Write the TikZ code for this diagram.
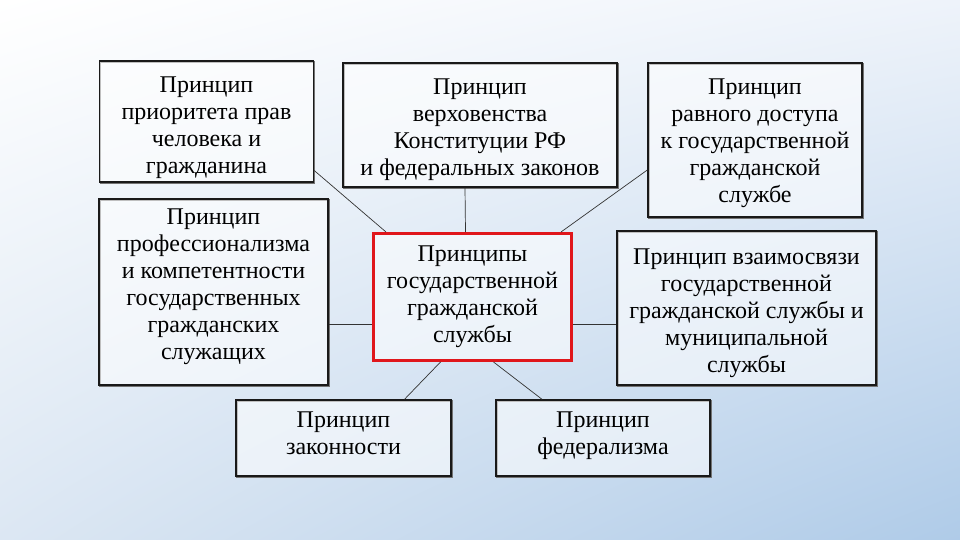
\documentclass[tikz,border=0pt]{standalone}
\usepackage{fontspec}
\setmainfont{Liberation Serif}
\usetikzlibrary{calc,shadings}
\definecolor{bgA}{HTML}{FFFFFF}
\definecolor{bgB}{HTML}{EEF3FA}
\definecolor{bgC}{HTML}{DCE7F3}
\definecolor{bgD}{HTML}{AFCBE8}
\definecolor{redline}{HTML}{E0161B}
\newcommand{\lines}[1]{\begin{tabular}{@{}c@{}}#1\end{tabular}}
\begin{document}
\begin{tikzpicture}[x=1pt,y=-1pt,
  box/.style={draw=black!90, line width=1.4pt, fill=white, fill opacity=0.55, inner sep=0pt,
    preaction={draw=black!55, line width=1.4pt, transform canvas={shift={(1.1pt,-1.1pt)}}}},
  mainbox/.style={box, draw=redline, line width=3pt},
  txt/.style={inner sep=0pt, font=\fontsize{24}{27}\selectfont},
  link/.style={draw=black!80, line width=0.7pt}]
\useasboundingbox (0,0) rectangle (960,540);
\shade[upper left=bgA, upper right=bgB, lower left=bgC, lower right=bgD] (0,0) rectangle (960,540);

\node[box, minimum width=214pt, minimum height=121pt] (b1) at (206.5,121.5) {};
\node[box, minimum width=274pt, minimum height=124pt] (b2) at (480,125) {};
\node[box, minimum width=214pt, minimum height=154pt] (b3) at (755,140) {};
\node[box, minimum width=229pt, minimum height=186pt] (b4) at (213.5,292) {};
\node[mainbox, minimum width=198pt, minimum height=127pt] (c) at (472.5,297) {};
\node[box, minimum width=259pt, minimum height=154pt] (b6) at (746.5,308) {};
\node[box, minimum width=215pt, minimum height=76pt] (b7) at (343.5,438) {};
\node[box, minimum width=214pt, minimum height=76pt] (b8) at (603,438) {};

\node[txt] (t1) at ($(b1)+(0,6)$)
  {\lines{Принцип\\приоритета прав\\человека и\\гражданина}};
\node[txt] (t2) at ($(b2)+(0,5)$)
  {\lines{Принцип\\верховенства\\Конституции РФ\\и федеральных законов}};
\node[txt] (t3) at ($(b3)+(0,3)$)
  {\lines{Принцип\\равного доступа\\к государственной\\гражданской\\службе}};
\node[txt] (t4) at ($(b4)+(0,-5)$)
  {\lines{Принцип\\профессионализма\\и компетентности\\государственных\\гражданских\\служащих}};
\node[txt] (tc) at ($(c)+(0,0)$)
  {\lines{Принципы\\государственной\\гражданской\\службы}};
\node[txt] (t6) at ($(b6)+(0,5)$)
  {\lines{Принцип взаимосвязи\\государственной\\гражданской службы и\\муниципальной\\службы}};
\node[txt] (t7) at ($(b7)+(0,-2)$)
  {\lines{Принцип\\законности}};
\node[txt] (t8) at ($(b8)+(0,-2)$)
  {\lines{Принцип\\федерализма}};

\draw[link] ($(b1.east)+(0,49)$) -- ($(c.north west)+(14,0)$);
\draw[link] ($(b2.south)+(-15,0)$) -- ($(c.north)+(-7,0)$);
\draw[link] ($(b3.west)+(0,30)$) -- ($(c.north east)+(-12,0)$);
\draw[link] ($(b4.east)+(0,32)$) -- ($(c.west)+(0,27)$);
\draw[link] ($(c.east)+(0,27)$) -- ($(b6.west)+(0,16)$);
\draw[link] ($(c.south)+(-32,0)$) -- ($(b7.north)+(61,0)$);
\draw[link] ($(c.south)+(21,0)$) -- ($(b8.north)+(-61,0)$);
\end{tikzpicture}
\end{document}
